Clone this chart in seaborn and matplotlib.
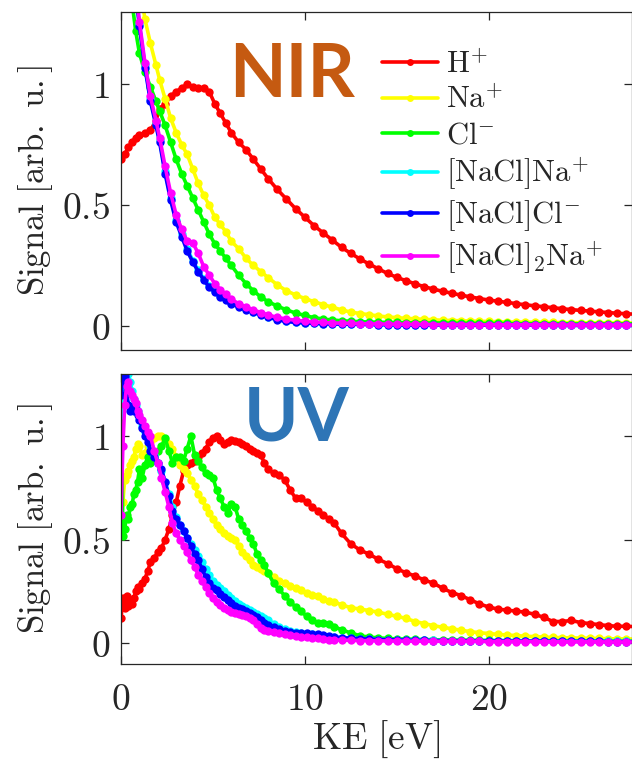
import numpy as np
import pandas as pd
import matplotlib
matplotlib.use('Agg')
import matplotlib.pyplot as plt
from matplotlib.lines import Line2D
import seaborn as sns

ions = ['H+', 'Na+', 'Cl-', '[NaCl]Na+', '[NaCl]Cl-', '[NaCl]2Na+']
ion_labels = [r'$\mathrm{H}^{+}$', r'$\mathrm{Na}^{+}$', r'$\mathrm{Cl}^{-}$',
              r'$[\mathrm{NaCl}]\mathrm{Na}^{+}$', r'$[\mathrm{NaCl}]\mathrm{Cl}^{-}$',
              r'$[\mathrm{NaCl}]_2\mathrm{Na}^{+}$']
ion_colors = ['#ff0000', '#ffff00', '#00ff00', '#00ffff', '#0000ff', '#ff00ff']

# ---- NIR panel ----
ke_nir = [0, 0.2, 0.4, 0.6, 0.8, 1.0, 1.3, 1.6, 1.9, 2.1, 2.4, 2.7, 3.0, 3.3, 3.6, 3.9, 4.2, 4.5,
          4.8, 5.1, 5.4, 5.7, 6.0, 6.4, 6.8, 7.2, 7.6, 8.0, 8.5, 9.0, 9.5, 10.0,
          10.5, 11.0, 11.5, 12.0, 12.5, 13.0, 13.5, 14.0, 14.5, 15.0, 15.5, 16.0, 16.5, 17.0,
          17.5, 18.0, 18.5, 19.0, 19.5, 20.0, 20.5, 21.0, 21.5, 22.0, 22.5, 23.0, 23.5, 24.0,
          24.5, 25.0, 25.5, 26.0, 26.5, 27.0, 27.5, 28.0]
nir_h = [0.69, 0.71, 0.74, 0.76, 0.78, 0.79, 0.80, 0.81, 0.85, 0.90, 0.92, 0.95, 0.97, 0.985,
         1.0, 0.99, 0.985, 0.985, 0.97, 0.92, 0.88, 0.84, 0.80, 0.76, 0.73, 0.69, 0.65, 0.61,
         0.565, 0.525, 0.485, 0.45,
         0.415, 0.385, 0.355, 0.325, 0.30, 0.277, 0.256, 0.236, 0.217, 0.201, 0.187, 0.174,
         0.162, 0.152, 0.143, 0.135, 0.127, 0.12, 0.113, 0.107, 0.102, 0.097, 0.092, 0.087,
         0.083, 0.079, 0.075, 0.071, 0.067, 0.064, 0.061, 0.058, 0.055, 0.052, 0.050, 0.048]
nir_na = [2.3, 2.05, 1.85, 1.68, 1.55, 1.42, 1.27, 1.17, 1.08, 1.02, 0.94, 0.86, 0.80, 0.75,
          0.71, 0.65, 0.59, 0.54, 0.50, 0.45, 0.42, 0.39, 0.35, 0.32, 0.28, 0.25, 0.225, 0.20,
          0.17, 0.145, 0.128, 0.113,
          0.10, 0.088, 0.077, 0.066, 0.057, 0.051, 0.046, 0.041, 0.037, 0.034, 0.031, 0.029,
          0.027, 0.025, 0.023, 0.022, 0.021, 0.02, 0.019, 0.018, 0.017, 0.016, 0.016, 0.015,
          0.015, 0.014, 0.014, 0.013, 0.013, 0.013, 0.012, 0.012, 0.012, 0.012, 0.012, 0.011]
nir_cl = [1.9, 1.7, 1.52, 1.34, 1.22, 1.13, 1.05, 0.99, 0.93, 0.89, 0.83, 0.76, 0.69, 0.63,
          0.58, 0.53, 0.48, 0.43, 0.38, 0.34, 0.31, 0.28, 0.25, 0.21, 0.175, 0.145, 0.12, 0.10,
          0.082, 0.066, 0.053, 0.043,
          0.034, 0.028, 0.024, 0.021, 0.019, 0.017, 0.016, 0.015, 0.014, 0.014, 0.013, 0.013,
          0.012, 0.012, 0.012, 0.011, 0.011, 0.011, 0.010, 0.010, 0.010, 0.010, 0.009, 0.009,
          0.009, 0.009, 0.009, 0.009, 0.008, 0.008, 0.008, 0.008, 0.008, 0.008, 0.008, 0.008]
nir_nacl_na = [2.4, 2.1, 1.86, 1.61, 1.39, 1.25, 1.08, 0.94, 0.84, 0.77, 0.64, 0.53, 0.44, 0.38,
               0.32, 0.27, 0.23, 0.195, 0.165, 0.145, 0.125, 0.11, 0.096, 0.081, 0.068, 0.058,
               0.048, 0.038, 0.027, 0.02, 0.015, 0.013,
               0.010, 0.009, 0.008, 0.007, 0.007, 0.006, 0.006, 0.005, 0.005, 0.005, 0.004,
               0.004, 0.004, 0.004, 0.004, 0.003, 0.003, 0.003, 0.003, 0.003, 0.003, 0.003,
               0.003, 0.003, 0.003, 0.003, 0.002, 0.002, 0.002, 0.002, 0.002, 0.002, 0.002,
               0.002, 0.002, 0.002]
nir_nacl_cl = [2.4, 2.1, 1.85, 1.6, 1.38, 1.24, 1.07, 0.93, 0.83, 0.76, 0.63, 0.52, 0.43, 0.37,
               0.31, 0.265, 0.225, 0.19, 0.16, 0.14, 0.12, 0.105, 0.092, 0.078, 0.066, 0.056,
               0.046, 0.036, 0.025, 0.018, 0.014, 0.012,
               0.010, 0.009, 0.008, 0.007, 0.007, 0.006, 0.006, 0.005, 0.005, 0.005, 0.004,
               0.004, 0.004, 0.004, 0.004, 0.003, 0.003, 0.003, 0.003, 0.003, 0.003, 0.003,
               0.003, 0.003, 0.003, 0.003, 0.002, 0.002, 0.002, 0.002, 0.002, 0.002, 0.002,
               0.002, 0.002, 0.002]
nir_nacl2_na = [2.3, 2.05, 1.82, 1.6, 1.4, 1.26, 1.09, 0.95, 0.85, 0.78, 0.66, 0.55, 0.46, 0.40,
                0.35, 0.345, 0.30, 0.245, 0.21, 0.175, 0.15, 0.13, 0.11, 0.092, 0.078, 0.066,
                0.055, 0.045, 0.035, 0.028, 0.023, 0.019,
                0.016, 0.014, 0.012, 0.011, 0.010, 0.009, 0.008, 0.008, 0.007, 0.007, 0.006,
                0.006, 0.006, 0.005, 0.005, 0.005, 0.005, 0.005, 0.004, 0.004, 0.004, 0.004,
                0.004, 0.004, 0.004, 0.004, 0.003, 0.003, 0.003, 0.003, 0.003, 0.003, 0.003,
                0.003, 0.003, 0.003]

# ---- UV panel ----
ke_uv = [0, 0.1, 0.2, 0.3, 0.4, 0.5, 0.6, 0.7, 0.8, 0.9, 1.0, 1.15, 1.3, 1.45,
         1.6, 1.8, 2.0, 2.2, 2.4, 2.6, 2.8, 3.0, 3.2, 3.4, 3.6, 3.8, 4.0, 4.2, 4.4, 4.6, 4.8,
         5.0, 5.2, 5.4, 5.6, 5.8, 6.0, 6.2, 6.4, 6.6, 6.8, 7.0, 7.2, 7.4, 7.6, 7.8, 8.0,
         8.3, 8.6, 8.9, 9.2, 9.5, 9.8, 10.1, 10.4, 10.7, 11.0, 11.3, 11.6,
         12.0, 12.5, 13.0, 13.5, 14.0, 14.5, 15.0, 15.5, 16.0, 16.5, 17.0, 17.5, 18.0, 18.5,
         19.0, 19.5, 20.0, 20.5, 21.0, 21.5, 22.0, 22.5, 23.0, 23.5, 24.0, 24.5, 25.0, 25.5,
         26.0, 26.5, 27.0, 27.5, 28.0]
uv_h = [0.12, 0.22, 0.17, 0.23, 0.18, 0.20, 0.19, 0.22, 0.25, 0.27, 0.26, 0.29, 0.31, 0.35,
        0.39, 0.41, 0.44, 0.46, 0.50, 0.55, 0.62, 0.68, 0.76, 0.83, 0.86, 0.87, 0.88, 0.90,
        0.92, 0.94, 0.97, 0.99, 1.0, 0.98, 0.96, 0.97, 0.98, 0.975, 0.97, 0.96, 0.95, 0.94,
        0.93, 0.92, 0.91, 0.87, 0.84,
        0.82, 0.81, 0.79, 0.74, 0.70, 0.70, 0.68, 0.66, 0.64, 0.62, 0.60, 0.58,
        0.53, 0.48, 0.45, 0.43, 0.405, 0.385, 0.36, 0.34, 0.325, 0.305, 0.29, 0.265, 0.245,
        0.23, 0.21, 0.19, 0.175, 0.165, 0.16, 0.155, 0.15, 0.14, 0.125, 0.105, 0.105, 0.11,
        0.10, 0.095, 0.09, 0.085, 0.082, 0.082, 0.08]
uv_na = [0.57, 0.68, 0.79, 0.81, 0.83, 0.86, 0.88, 0.90, 0.94, 0.96, 0.95, 0.91, 0.92, 0.95,
         0.97, 0.99, 1.0, 1.0, 0.98, 0.96, 0.94, 0.90, 0.86, 0.84, 0.82, 0.79, 0.76, 0.72,
         0.69, 0.66, 0.63, 0.60, 0.57, 0.55, 0.53, 0.52, 0.51, 0.50, 0.47, 0.44, 0.42, 0.40,
         0.38, 0.37, 0.36, 0.35, 0.34,
         0.32, 0.30, 0.29, 0.275, 0.265, 0.255, 0.245, 0.235, 0.228, 0.215, 0.205, 0.20,
         0.185, 0.172, 0.165, 0.158, 0.15, 0.14, 0.13, 0.12, 0.105, 0.095, 0.085, 0.077, 0.07,
         0.063, 0.056, 0.051, 0.047, 0.043, 0.04, 0.037, 0.034, 0.032, 0.03, 0.028, 0.027,
         0.026, 0.025, 0.024, 0.023, 0.022, 0.021, 0.021, 0.02]
uv_cl = [1.35, 0.52, 0.55, 0.62, 0.60, 0.66, 0.67, 0.72, 0.74, 0.78, 0.84, 0.80, 0.86, 0.90,
         0.87, 0.89, 0.93, 0.95, 0.99, 0.93, 0.87, 0.90, 0.90, 0.88, 0.94, 1.0, 0.91, 0.88,
         0.85, 0.82, 0.81, 0.80, 0.74, 0.70, 0.66, 0.63, 0.67, 0.66, 0.60, 0.57, 0.54, 0.51,
         0.48, 0.43, 0.40, 0.38, 0.34,
         0.29, 0.26, 0.23, 0.20, 0.175, 0.155, 0.13, 0.11, 0.10, 0.098, 0.092, 0.08,
         0.065, 0.05, 0.036, 0.03, 0.026, 0.023, 0.021, 0.02, 0.019, 0.018, 0.017, 0.016,
         0.016, 0.015, 0.015, 0.014, 0.014, 0.013, 0.013, 0.013, 0.012, 0.012, 0.012, 0.011,
         0.011, 0.011, 0.01, 0.01, 0.01, 0.01, 0.01, 0.01, 0.01]
uv_nacl_na = [1.10, 1.22, 1.28, 1.31, 1.30, 1.26, 1.22, 1.18, 1.15, 1.12, 1.09, 1.05, 1.02, 0.99,
              0.95, 0.91, 0.87, 0.83, 0.78, 0.72, 0.66, 0.61, 0.57, 0.54, 0.51, 0.48, 0.45,
              0.42, 0.39, 0.36, 0.33, 0.30, 0.28, 0.265, 0.25, 0.235, 0.22, 0.205, 0.19, 0.18,
              0.17, 0.16, 0.15, 0.14, 0.13, 0.12, 0.11,
              0.095, 0.08, 0.068, 0.06, 0.055, 0.05, 0.047, 0.044, 0.04, 0.036, 0.032, 0.029,
              0.026, 0.023, 0.021, 0.019, 0.018, 0.017, 0.016, 0.015, 0.015, 0.014, 0.014,
              0.013, 0.013, 0.013, 0.012, 0.012, 0.012, 0.011, 0.011, 0.011, 0.011, 0.011,
              0.010, 0.010, 0.010, 0.010, 0.010, 0.010, 0.010, 0.009, 0.009, 0.009, 0.009]
uv_nacl_cl = [1.20, 1.27, 1.29, 1.22, 1.15, 1.12, 1.14, 1.12, 1.13, 1.10, 1.08, 1.04, 1.0, 0.97,
              0.93, 0.90, 0.87, 0.84, 0.78, 0.71, 0.64, 0.60, 0.57, 0.54, 0.51, 0.47, 0.43,
              0.40, 0.36, 0.32, 0.29, 0.265, 0.255, 0.24, 0.225, 0.21, 0.195, 0.18, 0.172,
              0.165, 0.155, 0.145, 0.135, 0.125, 0.112, 0.10, 0.09,
              0.078, 0.07, 0.06, 0.053, 0.05, 0.048, 0.048, 0.047, 0.045, 0.04, 0.035, 0.03,
              0.027, 0.025, 0.022, 0.02, 0.018, 0.017, 0.016, 0.015, 0.014, 0.014, 0.013,
              0.013, 0.012, 0.012, 0.012, 0.011, 0.011, 0.011, 0.010, 0.010, 0.010, 0.010,
              0.010, 0.009, 0.009, 0.009, 0.009, 0.009, 0.009, 0.008, 0.008, 0.008, 0.008]
uv_nacl2_na = [0.62, 0.95, 1.15, 1.24, 1.26, 1.22, 1.20, 1.18, 1.16, 1.12, 1.10, 1.08, 1.05, 1.02,
               1.0, 0.93, 0.87, 0.80, 0.73, 0.66, 0.58, 0.53, 0.50, 0.47, 0.44, 0.40, 0.37,
               0.33, 0.30, 0.27, 0.245, 0.22, 0.20, 0.185, 0.17, 0.16, 0.15, 0.145, 0.14, 0.135,
               0.13, 0.12, 0.11, 0.095, 0.075, 0.063, 0.06,
               0.055, 0.05, 0.046, 0.04, 0.036, 0.032, 0.028, 0.025, 0.023, 0.02, 0.018, 0.016,
               0.015, 0.014, 0.013, 0.012, 0.012, 0.011, 0.011, 0.010, 0.010, 0.010, 0.010,
               0.009, 0.009, 0.009, 0.009, 0.009, 0.008, 0.008, 0.008, 0.008, 0.008, 0.008,
               0.007, 0.007, 0.007, 0.007, 0.007, 0.007, 0.007, 0.006, 0.006, 0.006, 0.006]

nir = pd.DataFrame(dict(zip(['KE'] + ions, [ke_nir, nir_h, nir_na, nir_cl, nir_nacl_na,
                                            nir_nacl_cl, nir_nacl2_na])))
uv = pd.DataFrame(dict(zip(['KE'] + ions, [ke_uv, uv_h, uv_na, uv_cl, uv_nacl_na,
                                           uv_nacl_cl, uv_nacl2_na])))
nir_long = nir.melt(id_vars='KE', var_name='ion', value_name='signal')
uv_long = uv.melt(id_vars='KE', var_name='ion', value_name='signal')

sns.set_style('ticks')
plt.rcParams['mathtext.fontset'] = 'cm'
plt.rcParams['font.family'] = ['DejaVu Sans']

pal = dict(zip(ions, ion_colors))
fig = plt.figure(figsize=(6.32, 7.59), dpi=100)
ax1 = fig.add_axes([0.1915, 0.5389, 0.8085, 0.4453])
ax2 = fig.add_axes([0.1915, 0.1252, 0.8085, 0.3821])

for ax, d in [(ax1, nir_long), (ax2, uv_long)]:
    sns.lineplot(data=d, x='KE', y='signal', hue='ion', hue_order=ions, palette=pal,
                 marker='o', markersize=6, markeredgewidth=0, linewidth=2.6,
                 sort=False, estimator=None, legend=False, ax=ax)
    ax.set_xlim(0, 27.8)
    ax.set_ylim(-0.1, 1.3)
    ax.set_yticks([0, 0.5, 1], labels=[r'$0$', r'$0.5$', r'$1$'])
    ax.tick_params(direction='in', length=6, width=0.9, top=True, right=True,
                   labelsize=27, color='#262626')
    ax.tick_params(axis='y', pad=8)
    ax.tick_params(axis='x', pad=13)
    for s in ax.spines.values():
        s.set_color('#262626')
        s.set_linewidth(0.9)
    ax.set_ylabel(r'$\mathrm{Signal\ [arb.\ u.]}$', fontsize=25)
    ax.yaxis.set_label_coords(-0.13, 0.5)

ax1.set_xticks([0, 10, 20], labels=['', '', ''])
ax1.set_xlabel('')
ax2.set_xticks([0, 10, 20], labels=[r'$0$', r'$10$', r'$20$'])
ax2.set_xlabel(r'$\mathrm{KE\ [eV]}$', fontsize=27)
ax2.xaxis.set_label_coords(0.5, -0.19)

handles = [Line2D([], [], color=c, marker='o', markersize=5, markeredgewidth=0, linewidth=2.6)
           for c in ion_colors]
ax1.legend(handles, ion_labels, loc='upper left', bbox_to_anchor=(0.511, 0.887),
           frameon=False, fontsize=22, handlelength=1.83, handletextpad=0.25,
           labelspacing=0.2, borderpad=0, borderaxespad=0)

ax1.text(0.335, 0.749, 'NIR', transform=ax1.transAxes, ha='center', va='baseline',
         fontsize=53, fontweight='bold', color='#C55A11', family='Lato')
ax2.text(0.344, 0.772, 'UV', transform=ax2.transAxes, ha='center', va='baseline',
         fontsize=53, fontweight='bold', color='#2E75B6', family='Lato')

fig.savefig('out.png', dpi=100)
